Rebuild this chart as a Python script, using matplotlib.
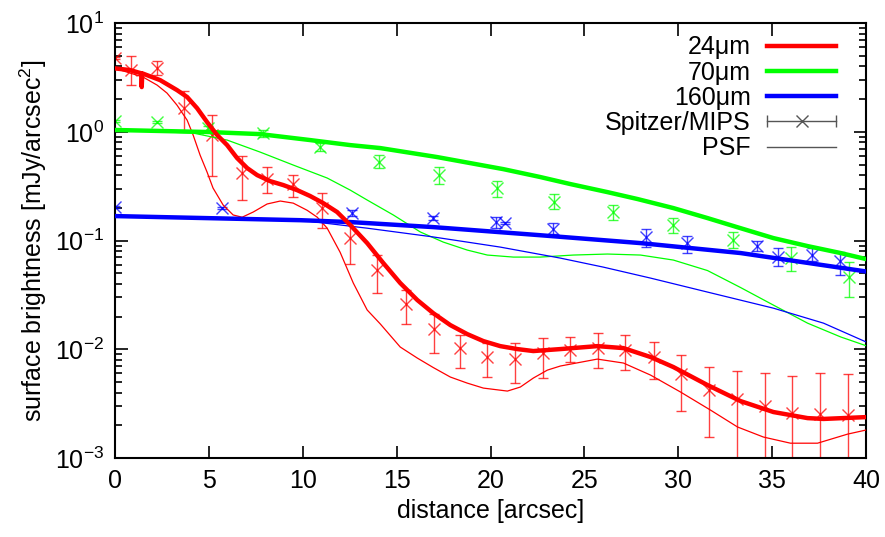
import matplotlib
matplotlib.use('Agg')
import matplotlib.pyplot as plt
import numpy as np
from matplotlib.lines import Line2D
from matplotlib.legend_handler import HandlerLine2D
from matplotlib.ticker import LogLocator, MultipleLocator, NullFormatter

plt.rcParams['font.family'] = ['Liberation Sans', 'DejaVu Sans']
plt.rcParams['mathtext.default'] = 'regular'

# Modelo 24um (linea gruesa) y PSF (linea fina)
x_24 = [0, 0.80, 1.40, 1.42, 1.45, 2.40, 3.30, 3.84, 4.37, 4.90, 5.44, 5.97, 6.50, 7.04,
        7.57, 8.26, 8.96, 9.70, 10.39, 11.09, 11.83, 12.53, 13.43, 14.29, 15.19, 16.10,
        16.95, 17.86, 18.76, 19.62, 20.52, 21.43, 22.28, 23.72, 25.69, 27.08, 28.52,
        29.74, 31.56, 33.32, 35.07, 36.89, 37.74, 40]
y_24 = [3.83, 3.70, 3.45, 2.58, 3.45, 2.99, 2.42, 2.09, 1.65, 1.23, 0.934, 0.755, 0.574,
        0.464, 0.400, 0.352, 0.324, 0.291, 0.257, 0.221, 0.183, 0.139, 0.0948, 0.0621,
        0.0407, 0.0284, 0.0215, 0.0167, 0.0138, 0.0119, 0.0107, 0.01005, 0.00964, 0.01005,
        0.0107, 0.01026, 0.0085, 0.00687, 0.00469, 0.00334, 0.00265, 0.00233, 0.00229,
        0.00238]
x_24_psf = [0, 1.49, 2.24, 2.77, 3.30, 3.84, 4.16, 4.53, 4.90, 5.22, 5.76, 6.29, 6.77, 7.36,
            8.10, 8.80, 9.49, 10.23, 10.77, 11.30, 11.99, 12.69, 13.43, 14.13, 15.19,
            16.10, 16.95, 17.86, 18.76, 19.62, 20.90, 21.59, 22.28, 23.03, 23.72, 25.69,
            27.08, 28.52, 30.12, 31.72, 33.16, 34.54, 35.98, 37.42, 39.02, 40]
y_24_psf = [3.83, 3.19, 2.69, 2.27, 1.76, 1.28, 0.934, 0.611, 0.427, 0.304, 0.212, 0.172,
            0.164, 0.183, 0.217, 0.231, 0.221, 0.19, 0.164, 0.13, 0.078, 0.0407, 0.023,
            0.0171, 0.0105, 0.00831, 0.0068, 0.00556, 0.00489, 0.0044, 0.00413, 0.0045,
            0.00544, 0.00644, 0.00702, 0.00813, 0.00748, 0.0058, 0.00405, 0.00276,
            0.00193, 0.00156, 0.00137, 0.00137, 0.00166, 0.00181]

# Modelo 70um
x_70 = [0, 5.06, 7.73, 10.39, 12.53, 14.13, 17.16, 20.68, 22.65, 24.25, 26.23, 27.83,
        29.74, 31.56, 33.32, 35.07, 36.89, 38.65, 40]
y_70 = [1.04, 0.995, 0.953, 0.84, 0.755, 0.709, 0.586, 0.454, 0.384, 0.331, 0.279, 0.241,
        0.199, 0.161, 0.130, 0.1054, 0.089, 0.0768, 0.0676]
x_70_psf = [0, 4.16, 5.97, 7.73, 9.49, 11.30, 12.53, 13.43, 14.82, 16.26, 17.48, 18.76,
            19.83, 21.22, 22.65, 24.41, 26.23, 27.99, 29.74, 31.56, 33.32, 35.07, 36.89,
            38.65, 40]
y_70_psf = [1.04, 0.974, 0.84, 0.651, 0.495, 0.376, 0.291, 0.236, 0.172, 0.120, 0.0969,
            0.0818, 0.0736, 0.0705, 0.0705, 0.0736, 0.0752, 0.0736, 0.0662, 0.053, 0.037,
            0.0255, 0.0174, 0.013, 0.0108]

# Modelo 160um
x_160 = [0, 9.86, 12.53, 16.95, 22.65, 27.99, 33.32, 40]
y_160 = [0.168, 0.154, 0.148, 0.133, 0.112, 0.0948, 0.0768, 0.052]
x_160_psf = [0, 6.66, 9.86, 13.43, 16.95, 20.52, 23.72, 26.01, 28.52, 31.56, 35.07, 37.74,
             40]
y_160_psf = [0.168, 0.162, 0.154, 0.130, 0.108, 0.0871, 0.069, 0.057, 0.0452, 0.0336,
             0.0239, 0.0174, 0.0117]

# Datos Spitzer/MIPS: x, valor, limite inferior, limite superior
px_24 = [0, 0.85, 2.24, 3.68, 5.17, 6.75, 8.08, 9.47, 11.0, 12.5, 13.95, 15.5, 16.97,
         18.35, 19.81, 21.29, 22.8, 24.25, 25.73, 27.19, 28.7, 30.15, 31.66, 33.14, 34.6,
         36.07, 37.53, 39.04]
py_24 = [4.77, 3.7, 3.85, 1.65, 0.93, 0.418, 0.368, 0.33, 0.2, 0.105, 0.054, 0.026, 0.0153,
         0.0102, 0.0085, 0.0081, 0.0092, 0.0098, 0.0102, 0.0098, 0.0085, 0.0059, 0.0042,
         0.0035, 0.003, 0.0026, 0.00254, 0.0025]
lo_24 = [4.7, 2.69, 3.33, 1.02, 0.392, 0.236, 0.274, 0.251, 0.13, 0.0608, 0.0329, 0.017,
         0.00925, 0.00673, 0.00556, 0.0049, 0.00544, 0.00764, 0.00673, 0.00645, 0.00532,
         0.0027, 0.00156, 1e-4, 1e-4, 1e-4, 1e-4, 1e-4]
hi_24 = [4.85, 4.98, 4.48, 2.37, 1.43, 0.598, 0.474, 0.4, 0.274, 0.145, 0.0736, 0.0351,
         0.0211, 0.0135, 0.0114, 0.0114, 0.0127, 0.013, 0.0141, 0.0135, 0.0117, 0.00886,
         0.00687, 0.00631, 0.00605, 0.00568, 0.00605, 0.00591]

px_70 = [0, 2.24, 4.96, 7.89, 10.93, 14.07, 17.27, 20.36, 23.4, 26.55, 29.74, 32.9, 35.98,
         39.07]
py_70 = [1.26, 1.23, 1.08, 0.975, 0.724, 0.527, 0.4, 0.304, 0.226, 0.183, 0.139, 0.101,
         0.069, 0.0461]
lo_70 = [1.24, 1.21, 1.0, 0.896, 0.666, 0.465, 0.331, 0.251, 0.195, 0.155, 0.117, 0.0853,
         0.0525, 0.0302]
hi_70 = [1.28, 1.25, 1.14, 1.04, 0.79, 0.611, 0.474, 0.352, 0.268, 0.212, 0.161, 0.12,
         0.087, 0.0634]

px_160 = [0, 5.7, 12.63, 16.95, 20.31, 20.79, 23.35, 28.3, 30.49, 34.22, 35.34, 37.1, 38.6]
py_160 = [0.203, 0.199, 0.179, 0.161, 0.148, 0.145, 0.128, 0.108, 0.0948, 0.0889, 0.0705,
          0.0736, 0.0649]
lo_160 = [0.2, 0.196, 0.168, 0.153, 0.13, 0.142, 0.115, 0.087, 0.0768, 0.08, 0.0583,
          0.0649, 0.0482]
hi_160 = [0.206, 0.202, 0.19, 0.17, 0.164, 0.148, 0.145, 0.128, 0.11, 0.0989, 0.0853,
          0.0853, 0.0784]

fig = plt.figure(figsize=(8.85, 5.37), dpi=100)
ax = fig.add_axes([0.13, 0.147, 0.8485, 0.81])

colores = {'24': '#ff0000', '70': '#00ff00', '160': '#0000ff'}

# Puntos con barras de error
for px, py, lo, hi, c in [(px_24, py_24, lo_24, hi_24, colores['24']),
                          (px_70, py_70, lo_70, hi_70, colores['70']),
                          (px_160, py_160, lo_160, hi_160, colores['160'])]:
    py = np.array(py)
    yerr = [py - np.array(lo), np.array(hi) - py]
    ax.errorbar(px, py, yerr=yerr, fmt='x', color=c, ms=8, mew=1.0, elinewidth=1.0,
                capsize=3.8, capthick=1.0, alpha=0.75, zorder=2)

# Lineas finas (PSF)
ax.plot(x_24_psf, y_24_psf, color=colores['24'], lw=0.9, zorder=3)
ax.plot(x_70_psf, y_70_psf, color=colores['70'], lw=0.9, zorder=3)
ax.plot(x_160_psf, y_160_psf, color=colores['160'], lw=0.9, zorder=3)

# Lineas gruesas (modelo)
ax.plot(x_160, y_160, color=colores['160'], lw=3.2, zorder=4)
ax.plot(x_70, y_70, color=colores['70'], lw=3.2, zorder=4)
ax.plot(x_24, y_24, color=colores['24'], lw=3.2, zorder=5)

ax.set_yscale('log')
ax.set_xlim(0, 40)
ax.set_ylim(1e-3, 10)
ax.xaxis.set_major_locator(MultipleLocator(5))
ax.yaxis.set_major_locator(LogLocator(base=10, numticks=10))
ax.yaxis.set_minor_locator(LogLocator(base=10, subs=np.arange(2, 10), numticks=10))
ax.yaxis.set_minor_formatter(NullFormatter())
ax.tick_params(which='both', direction='in', top=True, right=True, labelsize=18,
               width=1.2, pad=8)
ax.tick_params(which='major', length=9)
ax.tick_params(which='minor', length=5)
for s in ax.spines.values():
    s.set_linewidth(1.5)

ax.set_xlabel('distance [arcsec]', fontsize=18, labelpad=4)
ax.set_ylabel('surface brightness [mJy/arcsec$^{2}$]', fontsize=18, labelpad=4)

# Leyenda (texto a la izquierda, muestra a la derecha)
gris = '#555555'
barra = Line2D([], [], color=gris, lw=1, marker='|', ms=9, mew=1)
cruz = Line2D([], [], color=gris, lw=0, marker='x', ms=8, mew=1)
handles = [Line2D([], [], color=colores['24'], lw=3.2),
           Line2D([], [], color=colores['70'], lw=3.2),
           Line2D([], [], color=colores['160'], lw=3.2),
           (barra, cruz),
           Line2D([], [], color=gris, lw=1)]
labels = ['24μm', '70μm', '160μm', 'Spitzer/MIPS', 'PSF']
ax.legend(handles, labels, loc='upper right', bbox_to_anchor=(0.96, 0.972),
          frameon=False, fontsize=18, markerfirst=False, handlelength=2.75,
          labelspacing=0.05, handletextpad=0.65, borderpad=0, borderaxespad=0,
          handler_map={barra: HandlerLine2D(numpoints=2, marker_pad=0)})

fig.savefig('out.png', dpi=100)
